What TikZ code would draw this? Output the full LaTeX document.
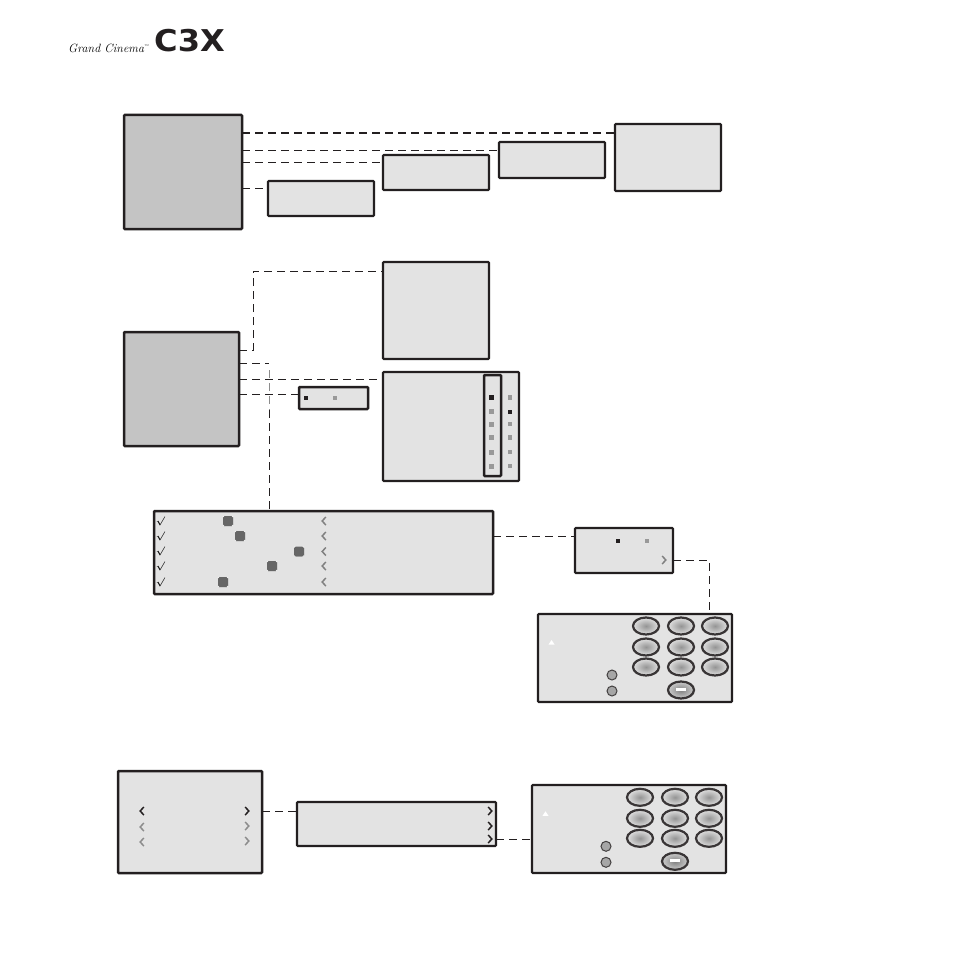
\documentclass[tikz,border=0pt]{standalone}
\usepackage{amsmath}
\usepackage{fontspec}
\usepackage{tikz}
\usetikzlibrary{shapes.geometric}
\newfontfamily\logofont{DejaVu Sans}
\definecolor{panelgray}{HTML}{E3E3E3}
\definecolor{maingray}{HTML}{C4C4C4}
\definecolor{markgray}{HTML}{999999}
\definecolor{ink}{HTML}{231F20}
\tikzset{
  panel/.style={draw=ink,fill=panelgray,line width=2.1pt,rounded corners=.8pt,inner sep=0pt,outer sep=0pt,anchor=north west},
  mainpanel/.style={panel,fill=maingray,line width=2.5pt},
  link/.style={draw=ink,line width=1pt,dash pattern=on 8pt off 5pt},
  dotblack/.style={fill=ink,inner sep=0pt,outer sep=0pt,minimum size=4.5pt},
  dotgray/.style={fill=markgray,inner sep=0pt,outer sep=0pt,minimum size=4.5pt},
  slider/.style={fill=black!60,draw=white,line width=.4pt,rounded corners=1.5pt,inner sep=0pt,minimum size=10.5pt},
  keybtn/.style={ellipse,draw=ink!90,line width=2.2pt,inner color=black!42,outer color=black!12,inner sep=0pt,minimum width=26pt,minimum height=17pt},
  roundbtn/.style={circle,draw=ink!85,line width=1pt,fill=black!35,inner sep=0pt,minimum size=10pt},
  chevr/.pic={\draw[line width=1.5pt] (-1.8,-4) -- (1.8,0) -- (-1.8,4);},
  chevl/.pic={\draw[line width=1.5pt] (1.8,-4) -- (-1.8,0) -- (1.8,4);},
}
\begin{document}
\begin{tikzpicture}[x=1pt,y=-1pt]
  \useasboundingbox (0,0) rectangle (955,955);
  \node[anchor=west,font=\itshape\fontsize{12}{12}\selectfont,inner sep=0pt] (brand) at (68,48) {Grand Cinema\textsuperscript{\fontsize{4}{4}\selectfont\texttrademark}};
  \node[anchor=west,font=\logofont\bfseries\fontsize{30}{30}\selectfont,inner sep=0pt,text=ink,xscale=1.07] (logo) at (154,41) {C3X};
  % first group
  \node[mainpanel,minimum width=118pt,minimum height=114pt] (mainA) at (124,115) {};
  \node[panel,minimum width=106pt,minimum height=67pt] (boxD) at (615,124) {};
  \node[panel,minimum width=106pt,minimum height=36pt] (boxC) at (499,142) {};
  \node[panel,minimum width=106pt,minimum height=35pt] (boxB) at (383,155) {};
  \node[panel,minimum width=106pt,minimum height=35pt] (boxA) at (268,181) {};
  \coordinate (outD) at (242,133);
  \coordinate (outC) at (242,150);
  \coordinate (outB) at (242,162);
  \coordinate (outA) at (242,188);
  \draw[link] (outD) -- (outD -| boxD.west);
  \draw[link] (outC) -- (outC -| boxC.west);
  \draw[link] (outB) -- (outB -| boxB.west);
  \draw[link] (outA) -- (outA -| boxA.west);
  % second group
  \node[mainpanel,minimum width=115pt,minimum height=114pt] (mainB) at (124,332) {};
  \node[panel,minimum width=106pt,minimum height=97pt] (boxTall) at (383,262) {};
  \node[panel,minimum width=136pt,minimum height=109pt] (boxMenu) at (383,372) {};
  \node[panel,line width=2.5pt,minimum width=17pt,minimum height=101pt] (boxSel) at (484,375) {};
  \node[panel,line width=2.5pt,minimum width=69pt,minimum height=22pt] (boxBar) at (299,387) {};
  \node[dotblack] (barOn) at (306,398) {};
  \node[dotgray] (barOff) at (335,398) {};
  \foreach \y [count=\i] in {411.5,424,437.5,452,466} {
    \node[dotgray,minimum size=5pt] (selA\i) at (491.5,\y) {};
  }
  \node[dotblack,minimum size=5.5pt] (selOn) at (491.5,397.5) {};
  \foreach \y [count=\i] in {397.5,424,437.5,452,466} {
    \node[dotgray] (selB\i) at (510,\y) {};
  }
  \node[dotblack] (selBOn) at (510,412) {};
  \coordinate (outTall) at (239,350);
  \coordinate (outList) at (239,363);
  \coordinate (outMenu) at (239,379);
  \coordinate (outBar) at (239,394);
  \coordinate (bendList) at (269,363);
  \coordinate (bendTall) at (253,271);
  \coordinate (greyTop) at (269,370);
  \coordinate (greyEnd) at (269,410);
  \draw[link] (outTall) -- (outTall -| bendTall) -- (bendTall) -- (bendTall -| boxTall.west);
  \draw[link] (outList) -- (bendList);
  \draw[link] (outMenu) -- (outMenu -| boxMenu.west);
  \draw[link] (outBar) -- (outBar -| boxBar.west);
  % list and keypads
  \node[panel,line width=2.5pt,minimum width=339pt,minimum height=83pt] (boxList) at (154,511) {};
  \draw[link,draw=black!45] (greyTop) -- (greyEnd);
  \draw[link] (greyEnd) -- (greyEnd |- boxList.north);
  \foreach \y/\x [count=\i] in {521/228,536/240,551.5/299,566/272,582/223} {
    \node[inner sep=0pt,font=\small\boldmath] (tick\i) at (160.5,\y) {$\surd$};
    \node[slider] (knob\i) at (\x,\y) {};
    \pic[color=black!50] at (324,\y) {chevl};
  }
  \node[panel,minimum width=98pt,minimum height=45pt] (boxPick) at (575,528) {};
  \node[dotblack] (pickOn) at (618,541) {};
  \node[dotgray] (pickOff) at (647,541) {};
  \pic[color=black!50] at (664,560) {chevr};
  \draw[link] (boxList.east |- 0,536) -- (boxPick.west |- 0,536);
  \node[panel,minimum width=194pt,minimum height=88pt] (padA) at (538,614) {};
  \coordinate (outPick) at (673,560);
  \draw[link] (outPick) -- (709,560) -- (709,560 |- padA.north);
  % third group
  \node[panel,line width=2.5pt,minimum width=144pt,minimum height=102pt] (boxSource) at (118,771) {};
  \node[panel,minimum width=199pt,minimum height=44pt] (boxWide) at (297,802) {};
  \node[panel,minimum width=194pt,minimum height=88pt] (padB) at (532,785) {};
  \pic[color=ink] at (142,811) {chevl};
  \pic[color=black!45] at (142,827) {chevl};
  \pic[color=black!45] at (142,842) {chevl};
  \pic[color=ink] at (247,811) {chevr};
  \pic[color=black!45] at (247,826) {chevr};
  \pic[color=black!45] at (247,841) {chevr};
  \foreach \y in {811,826,839} {
    \pic[color=ink] at (490,\y) {chevr};
  }
  \draw[link] (boxSource.east |- 0,811) -- (boxWide.west |- 0,811);
  \draw[link] (boxWide.east |- 0,839) -- (padB.west |- 0,839);
  \foreach \pad/\dx/\dy in {A/0/0,B/-6/171.3} {
    \begin{scope}[shift={(\dx,\dy)}]
      \foreach \y [count=\r] in {626,647,667} {
        \foreach \x [count=\c] in {646,681,715} {
          \node[keybtn] (key\pad\r\c) at (\x,\y) {};
        }
      }
      \node[keybtn,inner color=black!50,outer color=black!20] (keyOk\pad) at (681,690) {};
      \fill[white] (676,687.5) rectangle (686,691);
      \node[roundbtn] (roundUp\pad) at (612,675) {};
      \node[roundbtn] (roundDn\pad) at (612,691) {};
      \fill[white] (548.5,644.5) -- (551.5,640) -- (554.5,644.5) -- cycle;
    \end{scope}
  }
\end{tikzpicture}
\end{document}
